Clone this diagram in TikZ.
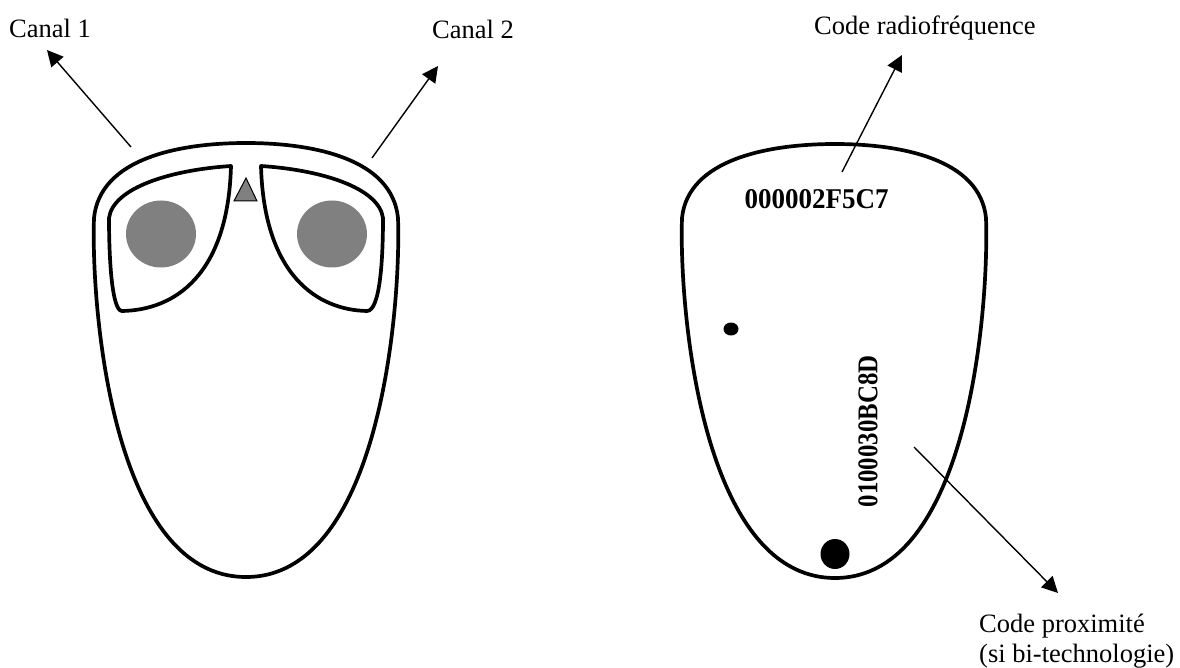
\documentclass[tikz,border=0pt]{standalone}
\usepackage{fontspec}
\setmainfont{Liberation Serif}
\usetikzlibrary{arrows.meta}
\tikzset{
  outline/.style={draw=black,line width=3.7pt,line join=round},
  arrowline/.style={draw=black,line width=1.4pt,-{Triangle[length=16pt,width=16pt]}},
  plaintext/.style={inner sep=0pt,font=\fontsize{26.5}{29.5}\selectfont,align=left},
  codetext/.style={inner sep=0pt,font=\fontsize{27}{30}\selectfont\bfseries}
}
\begin{document}
\begin{tikzpicture}[x=1pt,y=-1pt]
\useasboundingbox (0,0) rectangle (1180,668);
% left remote
\draw[outline] (246,143) .. controls (180,143) and (100,158) .. (94,218) .. controls (91,300) and (110,577) .. (246,577) .. controls (382,577) and (401,300) .. (398,218) .. controls (392,158) and (312,143) .. (246,143) -- cycle;
\draw[outline] (231,166) .. controls (170,170) and (113,188) .. (109,218) .. controls (109,260) and (112,311) .. (122,311) .. controls (175,310) and (228,275) .. (231,166) -- cycle;
\draw[outline] (261,166) .. controls (322,170) and (379,188) .. (383,218) .. controls (383,260) and (380,311) .. (367,311) .. controls (317,310) and (264,275) .. (261,166) -- cycle;
\fill[black!50] (161,234) ellipse [x radius=35,y radius=33.5];
\fill[black!50] (332,234) ellipse [x radius=35,y radius=33.5];
\draw[fill=black!50,line width=1pt] (246,178) -- (234,201) -- (257,201) -- cycle;
\coordinate (c1a) at (131,147); \coordinate (c1b) at (47,50);
\coordinate (c2a) at (372,158); \coordinate (c2b) at (438,66);
\draw[arrowline] (c1a) -- (c1b);
\draw[arrowline] (c2a) -- (c2b);
\node[plaintext,anchor=west] (canal1) at (9,28) {Canal 1};
\node[plaintext,anchor=west] (canal2) at (432,29) {Canal 2};
% right remote
\draw[outline] (835,144) .. controls (769,144) and (688,159) .. (682,218) .. controls (679,300) and (699,578) .. (835,578) .. controls (971,578) and (989,300) .. (986,218) .. controls (980,159) and (901,144) .. (835,144) -- cycle;
\fill (731,329) ellipse [x radius=7.5,y radius=6.5];
\fill (835,554) ellipse [x radius=14.5,y radius=15];
\node[codetext] (rf) at (816.5,199) {\scalebox{1}[1.06]{000002F5C7}};
\node[codetext,rotate=90] (prox) at (868,431.5) {\scalebox{0.92}[1.06]{0100030BC8D}};
\coordinate (rfa) at (842,172); \coordinate (rfb) at (902,55);
\coordinate (pra) at (914,447); \coordinate (prb) at (1058,593);
\draw[arrowline] (rfa) -- (rfb);
\draw[arrowline] (pra) -- (prb);
\node[plaintext,anchor=west] (rflabel) at (814,28) {Code radiofréquence};
\node[plaintext,anchor=north west] (prlabel) at (979,614) {Code proximité\\(si bi-technologie)};
\end{tikzpicture}
\end{document}
